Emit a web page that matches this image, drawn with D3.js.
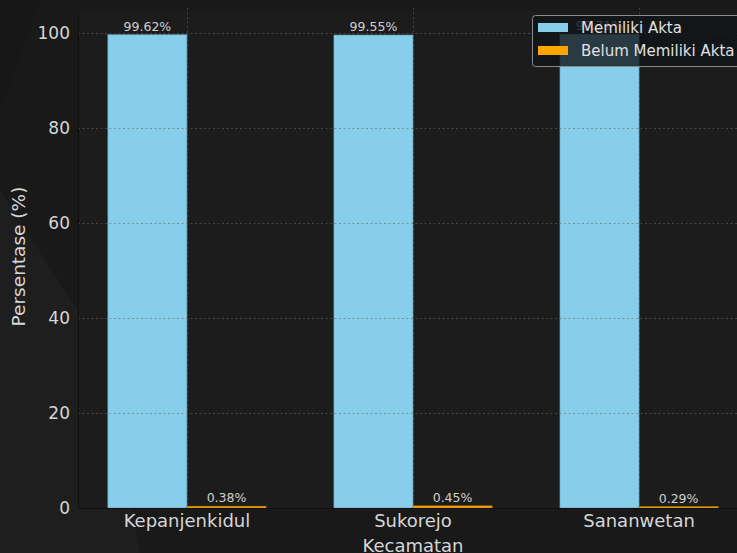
<!DOCTYPE html>
<html>
<head>
<meta charset="utf-8">
<script src="https://cdn.jsdelivr.net/npm/d3@7"></script>
<style>
  body { margin: 0; background: #191919; }
  svg { display: block; font-family: "DejaVu Sans", sans-serif; }
</style>
</head>
<body>
<div class="chart"></div>
<script>
// Data
const categories = ["Kepanjenkidul", "Sukorejo", "Sananwetan"];
const seriesNames = ["Memiliki Akta", "Belum Memiliki Akta"];
const memiliki = [99.62, 99.55, 99.71];
const belum = [0.38, 0.45, 0.29];
const yTicks = [0, 20, 40, 60, 80, 100];
const colors = ["#87CEEB", "#FFA500"];

const width = 737, height = 553;
const plot = { left: 78, right: 748, top: 11, bottom: 508 };

const svg = d3.select(".chart").append("svg")
    .attr("width", width)
    .attr("height", height);

// background with subtle diagonal shading
svg.append("rect").attr("width", width).attr("height", height).attr("fill", "#191919");
svg.append("path")
    .attr("d", "M0,190 L110,360 L140,553 L0,553 Z")
    .attr("fill", "#1e1e1e");
svg.append("path")
    .attr("d", "M0,0 L40,0 L0,110 Z")
    .attr("fill", "#171717");

// axes background
svg.append("rect")
    .attr("x", plot.left).attr("y", plot.top)
    .attr("width", plot.right - plot.left).attr("height", plot.bottom - plot.top)
    .attr("fill", "#1c1c1c");

// scales
const x0 = d3.scaleBand()
    .domain(categories)
    .range([plot.left, plot.right])
    .paddingInner(0.3)
    .paddingOuter(0.132);
const x1 = d3.scaleBand()
    .domain(seriesNames)
    .range([0, x0.bandwidth()]);
const y = d3.scaleLinear()
    .domain([0, 104.6])
    .range([plot.bottom, plot.top]);

const rows = categories.map((c, i) => ({
    cat: c,
    vals: [
        { name: seriesNames[0], value: memiliki[i], color: colors[0] },
        { name: seriesNames[1], value: belum[i], color: colors[1] }
    ]
}));

// bars
const groups = svg.append("g").selectAll("g")
    .data(rows)
    .enter().append("g")
    .attr("transform", d => `translate(${x0(d.cat)},0)`);

groups.selectAll("rect")
    .data(d => d.vals)
    .enter().append("rect")
    .attr("x", d => x1(d.name))
    .attr("y", d => y(d.value))
    .attr("width", x1.bandwidth())
    .attr("height", d => y(0) - y(d.value))
    .attr("fill", d => d.color)
    .attr("stroke", d => d.name === seriesNames[0] ? "#5f8fa3" : "#b07812")
    .attr("stroke-width", 0.6);

// grid (drawn over bars, faint)
const grid = svg.append("g").attr("stroke-dasharray", "2,2.5").attr("stroke-width", 1);
grid.selectAll(".hgrid")
    .data(yTicks)
    .enter().append("line")
    .attr("x1", plot.left).attr("x2", plot.right)
    .attr("y1", d => Math.round(y(d)) + 0.5).attr("y2", d => Math.round(y(d)) + 0.5)
    .attr("stroke", "#666")
    .attr("stroke-opacity", d => d === 0 ? 0 : 0.55);
grid.selectAll(".vgrid")
    .data(categories)
    .enter().append("line")
    .attr("x1", d => x0(d) + x0.bandwidth() / 2 + 0.5)
    .attr("x2", d => x0(d) + x0.bandwidth() / 2 + 0.5)
    .attr("y1", plot.top - 3).attr("y2", plot.bottom)
    .attr("stroke", "#666")
    .attr("stroke-opacity", 0.55);

// spines
svg.append("line")
    .attr("x1", plot.left + 0.5).attr("x2", plot.left + 0.5)
    .attr("y1", plot.top).attr("y2", plot.bottom)
    .attr("stroke", "#111");
svg.append("line")
    .attr("x1", plot.left).attr("x2", plot.right)
    .attr("y1", plot.bottom + 0.5).attr("y2", plot.bottom + 0.5)
    .attr("stroke", "#111");

// y axis
const yAxis = svg.append("g")
    .attr("transform", `translate(${plot.left},0)`)
    .call(d3.axisLeft(y).tickValues(yTicks).tickSize(0).tickPadding(8));
yAxis.select(".domain").remove();
yAxis.selectAll("text")
    .attr("fill", "#d6d6d6")
    .attr("font-size", 17)
    .attr("font-family", "DejaVu Sans, sans-serif");

// x axis
const xAxis = svg.append("g")
    .attr("transform", `translate(0,${plot.bottom})`)
    .call(d3.axisBottom(x0).tickSize(0).tickPadding(6));
xAxis.select(".domain").remove();
xAxis.selectAll("text")
    .attr("fill", "#d6d6d6")
    .attr("font-size", 18)
    .attr("font-family", "DejaVu Sans, sans-serif");

// axis titles
svg.append("text")
    .attr("transform", `translate(25,${(plot.top + plot.bottom) / 2 - 3}) rotate(-90)`)
    .attr("text-anchor", "middle")
    .attr("fill", "#d6d6d6")
    .attr("font-size", 18.5)
    .text("Persentase (%)");
svg.append("text")
    .attr("x", x0(categories[1]) + x0.bandwidth() / 2)
    .attr("y", 552)
    .attr("text-anchor", "middle")
    .attr("fill", "#d6d6d6")
    .attr("font-size", 18)
    .text("Kecamatan");

// value labels
groups.selectAll(".val")
    .data(d => d.vals)
    .enter().append("text")
    .attr("x", d => x1(d.name) + x1.bandwidth() / 2)
    .attr("y", d => y(d.value) - 4)
    .attr("text-anchor", "middle")
    .attr("fill", "#d0d0d0")
    .attr("font-size", 12.5)
    .text(d => d.value.toFixed(2) + "%");

// legend
const legend = svg.append("g").attr("transform", "translate(532,15)");
legend.append("rect")
    .attr("x", 0.5).attr("y", 0.5)
    .attr("width", 220).attr("height", 51)
    .attr("rx", 3)
    .attr("fill", "#121518")
    .attr("fill-opacity", 0.8)
    .attr("stroke", "#8a8a8a");
seriesNames.forEach((name, i) => {
    legend.append("rect")
        .attr("x", 6).attr("y", 8 + i * 23)
        .attr("width", 30).attr("height", 9)
        .attr("fill", colors[i]);
    legend.append("text")
        .attr("x", 49).attr("y", 18 + i * 23)
        .attr("fill", "#e0e0e0")
        .attr("font-size", 15)
        .text(name);
});
</script>
</body>
</html>
